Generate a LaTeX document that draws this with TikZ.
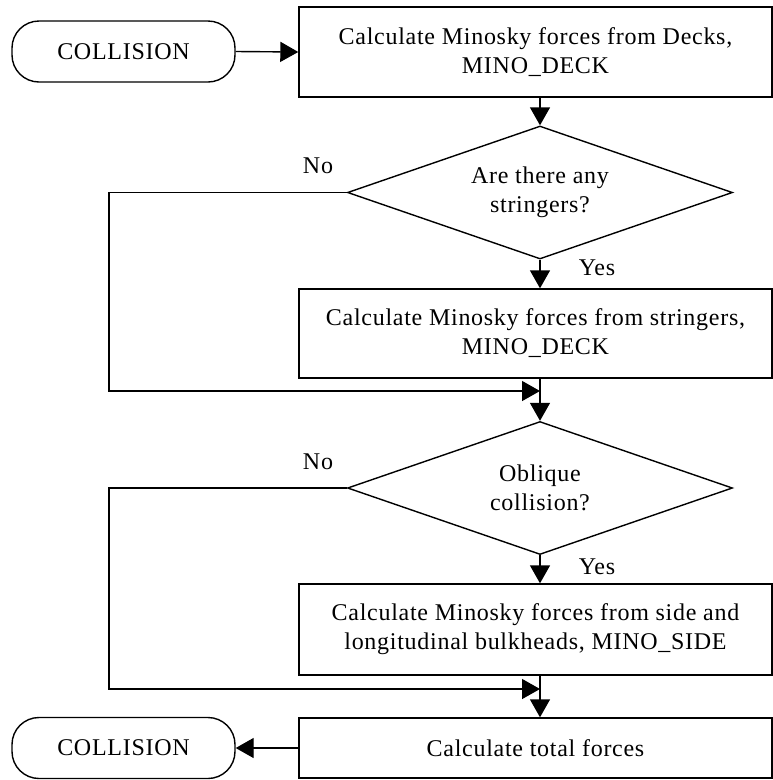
\documentclass[tikz,border=0pt]{standalone}
\usepackage{fontspec}
\setmainfont{Liberation Serif}[LetterSpace=3]
\usetikzlibrary{shapes.geometric,arrows.meta,calc}

\tikzset{
  every node/.style={font=\fontsize{24}{29}\selectfont},
  line/.style={line width=1.4pt},
  flow/.style={line, -{Triangle[length=18pt,width=20pt]}},
  term/.style={draw, line width=1.4pt, rectangle, rounded corners=27pt,
               minimum width=223pt, minimum height=61pt, inner sep=0pt},
  procbox/.style={draw, line width=1.4pt, rectangle, minimum width=473pt,
                  inner sep=0pt, align=center},
  decision/.style={draw, line width=1.4pt, diamond, shape aspect=2.9,
                   minimum width=385pt, minimum height=133pt, inner sep=0pt,
                   align=center},
  tag/.style={inner sep=0pt}
}

\begin{document}
\begin{tikzpicture}[x=1pt,y=-1pt]
\useasboundingbox (0,0) rectangle (773,780);

% terminators
\node[term] (start) at (123.5,51.5) {COLLISION};
\node[term] (stop)  at (123.5,748)  {COLLISION};

% process boxes
\node[procbox, minimum height=90pt] (deck)  at (535.5,52)    {Calculate Minosky forces from Decks,\\MINO\_DECK};
\node[procbox, minimum height=89pt] (str)   at (535.5,333.5) {Calculate Minosky forces from stringers,\\MINO\_DECK};
\node[procbox, minimum height=91pt] (side)  at (535.5,629.5) {Calculate Minosky forces from side and\\longitudinal bulkheads, MINO\_SIDE};
\node[procbox, minimum height=60pt] (total) at (535.5,748)   {Calculate total forces};

% decisions
\node[decision] (q1) at (540,192.5) {Are there any\\stringers?};
\node[decision] (q2) at (540,488)   {Oblique\\collision?};

% join points and bypass column
\coordinate (j1) at (540,391);
\coordinate (j2) at (540,689);
\coordinate (lx) at (109,0);

% main flow
\draw[flow] (start.east) -- (deck.west);
\draw[flow] (deck.south -| q1.north) -- (q1.north);
\draw[flow] (q1.south) -- (str.north -| q1.south);
\draw[flow] (str.south -| q2.north) -- (q2.north);
\draw[flow] (q2.south) -- (side.north -| q2.south);
\draw[flow] (side.south -| j2) -- (total.north -| j2);
\draw[flow] (total.west) -- (stop.east);

% bypass branches
\draw[flow] (q1.west) -- (q1.west -| lx) |- (j1);
\draw[flow] (q2.west) -- (q2.west -| lx) |- (j2);

% branch labels
\node[tag] (no1)  at (318,166) {No};
\node[tag] (yes1) at (597,268) {Yes};
\node[tag] (no2)  at (318,462) {No};
\node[tag] (yes2) at (597,567) {Yes};
\end{tikzpicture}
\end{document}
